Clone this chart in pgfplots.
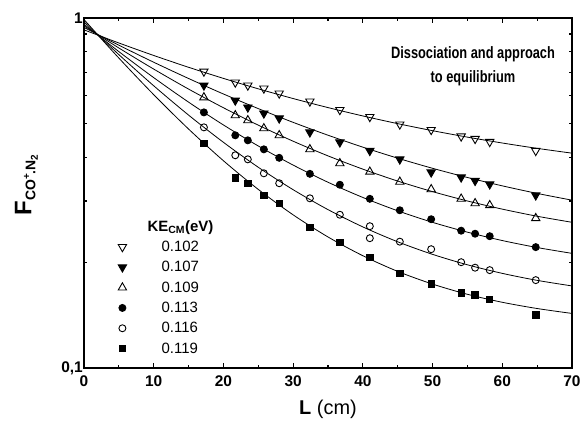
\documentclass[border=0pt]{standalone}
\usepackage{pgfplots}
\pgfplotsset{compat=1.18}
\usepackage{fontspec}
\setmainfont{Liberation Sans}
\usepackage{graphicx}

\begin{document}
\begin{tikzpicture}
\useasboundingbox (-84bp,-55bp) rectangle (496bp,368bp);
\begin{axis}[
  scale only axis, width=488bp, height=350bp,
  at={(0,0)}, anchor=south west,
  xmin=0, xmax=70, ymin=0.1, ymax=1, ymode=log,
  xtick={0,10,20,30,40,50,60,70},
  minor xtick={5,15,25,35,45,55,65},
  ytick={0.1,1}, yticklabels={{0,1},{1\hspace{10bp}}},
  minor ytick={0.2,0.3,0.4,0.5,0.6,0.7,0.8,0.9},
  tick align=inside, major tick length=5bp, minor tick length=3bp,
  axis line style={line width=1.5bp},
  every tick/.style={black, line width=1.1bp},
  /pgf/number format/assume math mode=true,
  tick label style={font=\bfseries\fontsize{15.5}{17}\selectfont},
  yticklabel style={inner sep=1bp},
  xticklabel style={yshift=-4bp},
  every axis x label/.style={at={(axis description cs:0.5,-0.092)}, anchor=north, inner sep=0pt},
  every axis y label/.style={at={(axis description cs:-0.094,0.523)}, rotate=90, anchor=south, inner sep=0pt},
  xlabel={\fontsize{20}{22}\selectfont\textbf{L} (cm)},
  ylabel={\bfseries\fontsize{24}{26}\selectfont F\raisebox{-4bp}{\fontsize{14}{15}\selectfont CO\raisebox{5.5bp}{\fontsize{10}{11}\selectfont +}.N\raisebox{-2.5bp}{\fontsize{10}{11}\selectfont 2}}},
  legend style={at={(axis description cs:0.0656,0.4284)}, anchor=north west, draw=none, fill=none, inner sep=0pt,
    font=\fontsize{15}{17}\selectfont, nodes={inner sep=2bp}, row sep=4.4bp, cells={anchor=west}},
  legend image code/.code={\draw[#1] plot coordinates {(0bp,0bp)}; \path (-6bp,0bp) (37bp,0bp);},
]
\addlegendimage{empty legend}
\addlegendentry{\hspace{-14bp}\textbf{KE\textsubscript{CM}(eV)}\rule[-6bp]{0pt}{6bp}}

% fitted curves
\addplot[black, line width=0.8bp, smooth, forget plot] coordinates {(0,0.925)(5,0.8485)(10,0.7816)(15,0.7232)(20,0.6722)(25,0.6276)(30,0.5887)(35,0.5547)(40,0.525)(45,0.4991)(50,0.4765)(55,0.4567)(60,0.4394)(65,0.4242)(70,0.411)};
\addplot[black, line width=0.8bp, smooth, forget plot] coordinates {(0,0.94)(5,0.8363)(10,0.7476)(15,0.6717)(20,0.6066)(25,0.551)(30,0.5033)(35,0.4625)(40,0.4276)(45,0.3977)(50,0.3721)(55,0.3502)(60,0.3315)(65,0.3154)(70,0.3017)};
\addplot[black, line width=0.8bp, smooth, forget plot] coordinates {(0,0.95)(5,0.821)(10,0.7146)(15,0.6266)(20,0.5541)(25,0.4941)(30,0.4446)(35,0.4037)(40,0.37)(45,0.3421)(50,0.3191)(55,0.3001)(60,0.2844)(65,0.2714)(70,0.2608)};
\addplot[black, line width=0.8bp, smooth, forget plot] coordinates {(0,0.96)(5,0.8017)(10,0.6756)(15,0.575)(20,0.4948)(25,0.4309)(30,0.38)(35,0.3394)(40,0.3071)(45,0.2813)(50,0.2607)(55,0.2444)(60,0.2313)(65,0.2209)(70,0.2126)};
\addplot[black, line width=0.8bp, smooth, forget plot] coordinates {(0,0.975)(5,0.786)(10,0.6403)(15,0.528)(20,0.4414)(25,0.3746)(30,0.3232)(35,0.2835)(40,0.253)(45,0.2294)(50,0.2112)(55,0.1972)(60,0.1864)(65,0.178)(70,0.1716)};
\addplot[black, line width=0.8bp, smooth, forget plot] coordinates {(0,0.99)(5,0.7684)(10,0.6039)(15,0.4817)(20,0.3911)(25,0.3238)(30,0.2739)(35,0.2368)(40,0.2093)(45,0.1888)(50,0.1737)(55,0.1624)(60,0.1541)(65,0.1479)(70,0.1432)};

% data
\addplot[only marks, mark=triangle, mark size=4.8bp, mark options={rotate=180, fill=white, draw=black, line width=0.9bp}] coordinates {
(17.2,0.7036)(21.7,0.6546)(23.5,0.6418)(25.8,0.6293)(28.0,0.6090)(32.4,0.5777)(36.7,0.5463)(41.0,0.5218)(45.3,0.4967)(49.8,0.4791)(54.1,0.4591)(56.1,0.4517)(58.2,0.4428)(64.8,0.4174)};
\addlegendentry{0.102}
\addplot[only marks, mark=triangle*, mark size=4.8bp, mark options={rotate=180, fill=black, draw=black, line width=0.9bp}] coordinates {
(17.2,0.6418)(21.7,0.5815)(23.5,0.5554)(25.8,0.5339)(28.0,0.5168)(32.4,0.4715)(36.7,0.4414)(41.0,0.4174)(45.3,0.3947)(49.8,0.3623)(54.1,0.3506)(56.1,0.3427)(58.2,0.3350)(64.8,0.3115)};
\addlegendentry{0.107}
\addplot[only marks, mark=triangle, mark size=4.8bp, mark options={fill=white, draw=black, line width=0.9bp}] coordinates {
(17.2,0.5931)(21.7,0.5270)(23.5,0.5100)(25.8,0.4838)(28.0,0.4622)(32.4,0.4215)(36.7,0.3845)(41.0,0.3636)(45.3,0.3404)(49.8,0.3240)(54.1,0.3044)(56.1,0.2955)(58.2,0.2917)(64.8,0.2679)};
\addlegendentry{0.109}
\addplot[only marks, mark=*, mark size=3.5bp, mark options={fill=black, draw=black, line width=0.9bp}] coordinates {
(17.2,0.5375)(21.7,0.4622)(23.5,0.4472)(25.8,0.4215)(28.0,0.3987)(32.4,0.3588)(36.7,0.3339)(41.0,0.3044)(45.3,0.2823)(49.8,0.2661)(54.1,0.2468)(56.1,0.2419)(58.2,0.2380)(64.8,0.2215)};
\addlegendentry{0.113}
\addplot[only marks, mark=o, mark size=3.5bp, mark options={fill=white, draw=black, line width=0.9bp}] coordinates {
(17.2,0.4871)(21.7,0.4053)(23.5,0.3947)(25.8,0.3600)(28.0,0.3372)(32.4,0.3054)(36.7,0.2741)(41.0,0.2542)(41.0,0.2349)(45.3,0.2296)(49.8,0.2185)(54.1,0.2006)(56.1,0.1935)(58.2,0.1904)(64.8,0.1783)};
\addlegendentry{0.116}
\addplot[only marks, mark=square*, mark size=3.2bp, mark options={fill=black, draw=black, line width=0.9bp}] coordinates {
(17.2,0.4385)(21.7,0.3495)(23.5,0.3372)(25.8,0.3115)(28.0,0.2955)(32.4,0.2526)(36.7,0.2288)(41.0,0.2073)(45.3,0.1866)(49.8,0.1737)(54.1,0.1637)(56.1,0.1616)(58.2,0.1573)(64.8,0.1416)};
\addlegendentry{0.119}

\node[align=center, inner sep=0pt, font=\bfseries\fontsize{16.5}{25}\selectfont] at (axis cs:55.8,0.728)
  {\scalebox{0.78}[1]{Dissociation and approach}\\\scalebox{0.78}[1]{to equilibrium}};
\end{axis}
\end{tikzpicture}
\end{document}
